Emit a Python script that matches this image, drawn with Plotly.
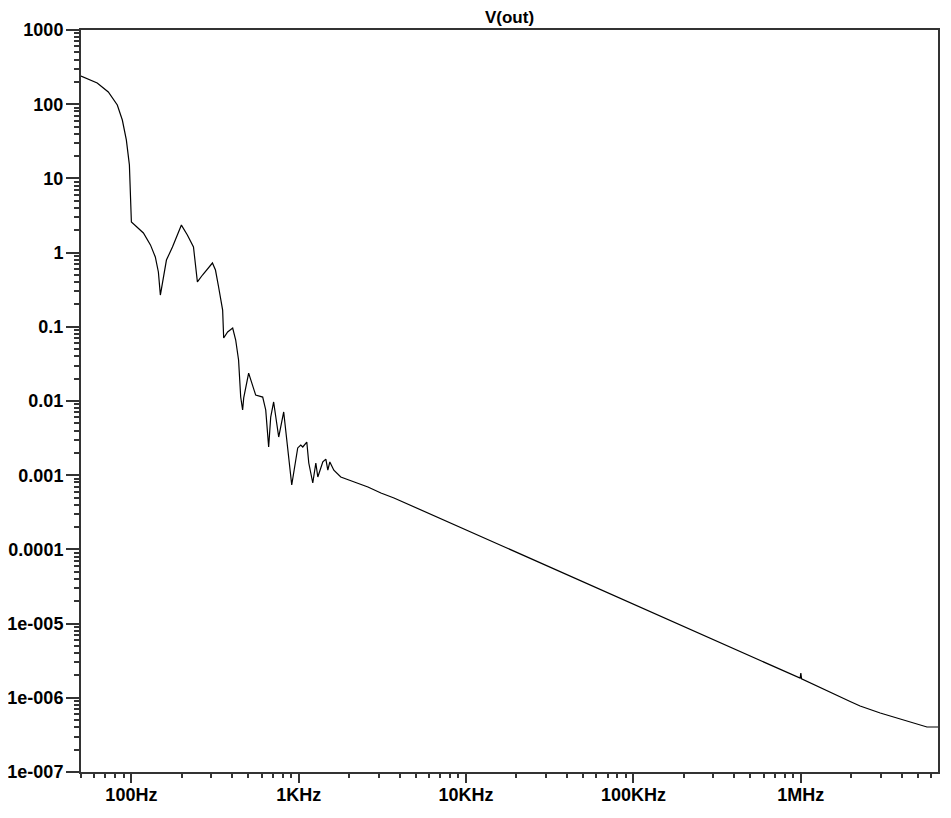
import plotly.graph_objects as go

# Frequency (Hz) and output voltage V(out)
freq_hz = [50, 62.5, 72.8, 82.4, 88.3, 93.3, 97.3, 98.6, 100, 118, 130, 139, 145, 149,
           162, 176, 199, 216, 235, 248, 266, 305, 318, 332, 351, 356, 376, 403, 420,
           437, 443, 450, 462, 469, 502, 553, 609, 635, 661, 680, 708, 759, 813, 847,
           871, 908, 986, 1028, 1057, 1117, 1148, 1213, 1265, 1300, 1393, 1452, 1492,
           1534, 1621, 1783, 1993, 2256, 2590, 3097, 3707, 16200, 64300, 255000,
           509000, 990000, 1000000, 1010000, 1970000, 2260000, 2980000, 3920000,
           4950000, 5670000, 6600000]
v_out = [240, 193, 146, 97.5, 61.2, 33, 15.2, 6.36, 2.58, 1.84, 1.27, 0.873, 0.548, 0.268,
         0.794, 1.19, 2.35, 1.73, 1.19, 0.402, 0.499, 0.724, 0.582, 0.344, 0.168, 0.0706,
         0.0851, 0.0964, 0.0664, 0.0357, 0.0238, 0.0113, 0.00757, 0.0110, 0.0238, 0.0120,
         0.0113, 0.00757, 0.0024, 0.00608, 0.0097, 0.00327, 0.00711, 0.00317, 0.00187,
         0.000738, 0.00233, 0.00255, 0.00240, 0.0028, 0.00146, 0.000785, 0.00146,
         0.000946, 0.00151, 0.00165, 0.00117, 0.00151, 0.00117, 0.000946, 0.000861,
         0.000785, 0.000693, 0.000575, 0.000493, 1.13e-4, 2.84e-5, 7.1e-6, 3.56e-6,
         1.84e-6, 2.15e-6, 1.80e-6, 8.9e-7, 7.75e-7, 6.24e-7, 5.18e-7, 4.44e-7,
         4.04e-7, 4.04e-7]

x_tick_vals = [100, 1e3, 1e4, 1e5, 1e6]
x_tick_text = ["100Hz", "1KHz", "10KHz", "100KHz", "1MHz"]
y_tick_vals = [1e3, 1e2, 1e1, 1, 0.1, 0.01, 0.001, 1e-4, 1e-5, 1e-6, 1e-7]
y_tick_text = ["1000", "100", "10", "1", "0.1", "0.01", "0.001", "0.0001",
               "1e-005", "1e-006", "1e-007"]

x_minor = [m * 10 ** e for e in range(1, 7) for m in range(2, 10)]
y_minor = [m * 10.0 ** e for e in range(-7, 3) for m in range(2, 10)]

fig = go.Figure()
fig.add_trace(go.Scatter(x=freq_hz, y=v_out, mode="lines",
                         line=dict(color="black", width=1.2), showlegend=False))

tickfont = dict(family="Liberation Sans", size=18, color="black", weight="bold")
axis_common = dict(showline=True, linecolor="#333333", linewidth=2, mirror=True,
                   showgrid=False, zeroline=False, ticks="outside", automargin=False,
                   tickcolor="#333333", tickwidth=1.5, tickfont=tickfont)

fig.update_xaxes(type="log", range=[1.699, 6.8195], tickmode="array",
                 tickvals=x_tick_vals, ticktext=x_tick_text, ticklen=9,
                 ticklabelstandoff=-4,
                 minor=dict(tickmode="array", tickvals=x_minor, ticks="outside",
                            ticklen=4, tickcolor="#333333", tickwidth=1.5, showgrid=False),
                 **axis_common)
fig.update_yaxes(type="log", range=[-7, 3], tickmode="array",
                 tickvals=y_tick_vals, ticktext=y_tick_text, ticklen=13,
                 ticklabelstandoff=-1,
                 minor=dict(tickmode="array", tickvals=y_minor, ticks="outside",
                            ticklen=5, tickcolor="#333333", tickwidth=1.5, showgrid=False),
                 **axis_common)

# Page body has an 8px margin, so the figure is sized and offset to compensate
fig.update_layout(
    width=935, height=802,
    margin=dict(l=73, r=5, t=22, b=38, autoexpand=False),
    paper_bgcolor="white", plot_bgcolor="white",
    title=dict(text="V(out)", x=0.5, xref="paper", y=1 - 9 / 802, yref="container",
               xanchor="center", yanchor="middle", automargin=False,
               font=dict(family="Liberation Sans", size=17, color="black", weight="bold")),
)

fig.write_html("out.html")
